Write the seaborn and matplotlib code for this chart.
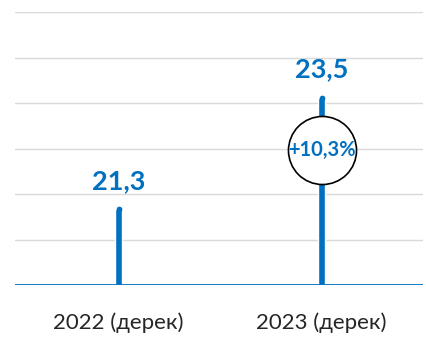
import numpy as np
import matplotlib
matplotlib.use("Agg")
import matplotlib.pyplot as plt
import pandas as pd
import seaborn as sns

years = ["2022 (дерек)", "2023 (дерек)"]
values = [21.3, 23.5]
labels = ["21,3", "23,5"]
growth = "+10,3%"

blue = "#0070C0"
df = pd.DataFrame({"year": years, "value": values})

sns.set_style("white")
plt.rcParams["font.family"] = ["Lato", "DejaVu Sans"]

fig = plt.figure(figsize=(4.26, 3.38), dpi=100)
ax = fig.add_axes([15 / 426, 53 / 338, 408 / 426, 273 / 338])

ymin, ymax = 19.73, 25.14
for g in np.linspace(ymin, ymax, 7)[1:]:
    ax.axhline(g, color="#d9d9d9", lw=1, zorder=0)

sns.barplot(data=df, x="year", y="value", color=blue, width=0.032,
            saturation=1, ax=ax, zorder=2)
# bars start at the baseline, not at zero
for p, v in zip(ax.patches, values):
    p.set_y(ymin)
    p.set_height(v - 0.06 - ymin)
sns.scatterplot(x=[0, 1], y=[v - 0.06 for v in values], color=blue, s=17,
                linewidth=0, ax=ax, zorder=3)

ax.axhline(ymin, color=blue, lw=2, zorder=4)

for i, (v, t) in enumerate(zip(values, labels)):
    ax.text(i, v + 0.26, t, ha="center", va="bottom", color=blue,
            fontsize=19.5, fontweight="bold")

mid = (values[0] + values[1]) / 2
ax.scatter([1], [mid], s=2400, facecolor="white", edgecolor="black",
           linewidth=1.2, zorder=5)
ax.text(1, mid, growth, ha="center", va="center", color=blue,
        fontsize=14.5, fontweight="bold", zorder=6)

ax.set_ylim(ymin, ymax)
ax.set_xlim(-0.51, 1.5)
ax.set_yticks([])
ax.set_xlabel("")
ax.set_ylabel("")
ax.tick_params(axis="x", length=0, pad=20, labelsize=16)
sns.despine(ax=ax, left=True, bottom=True)

fig.savefig("out.png", dpi=100)
